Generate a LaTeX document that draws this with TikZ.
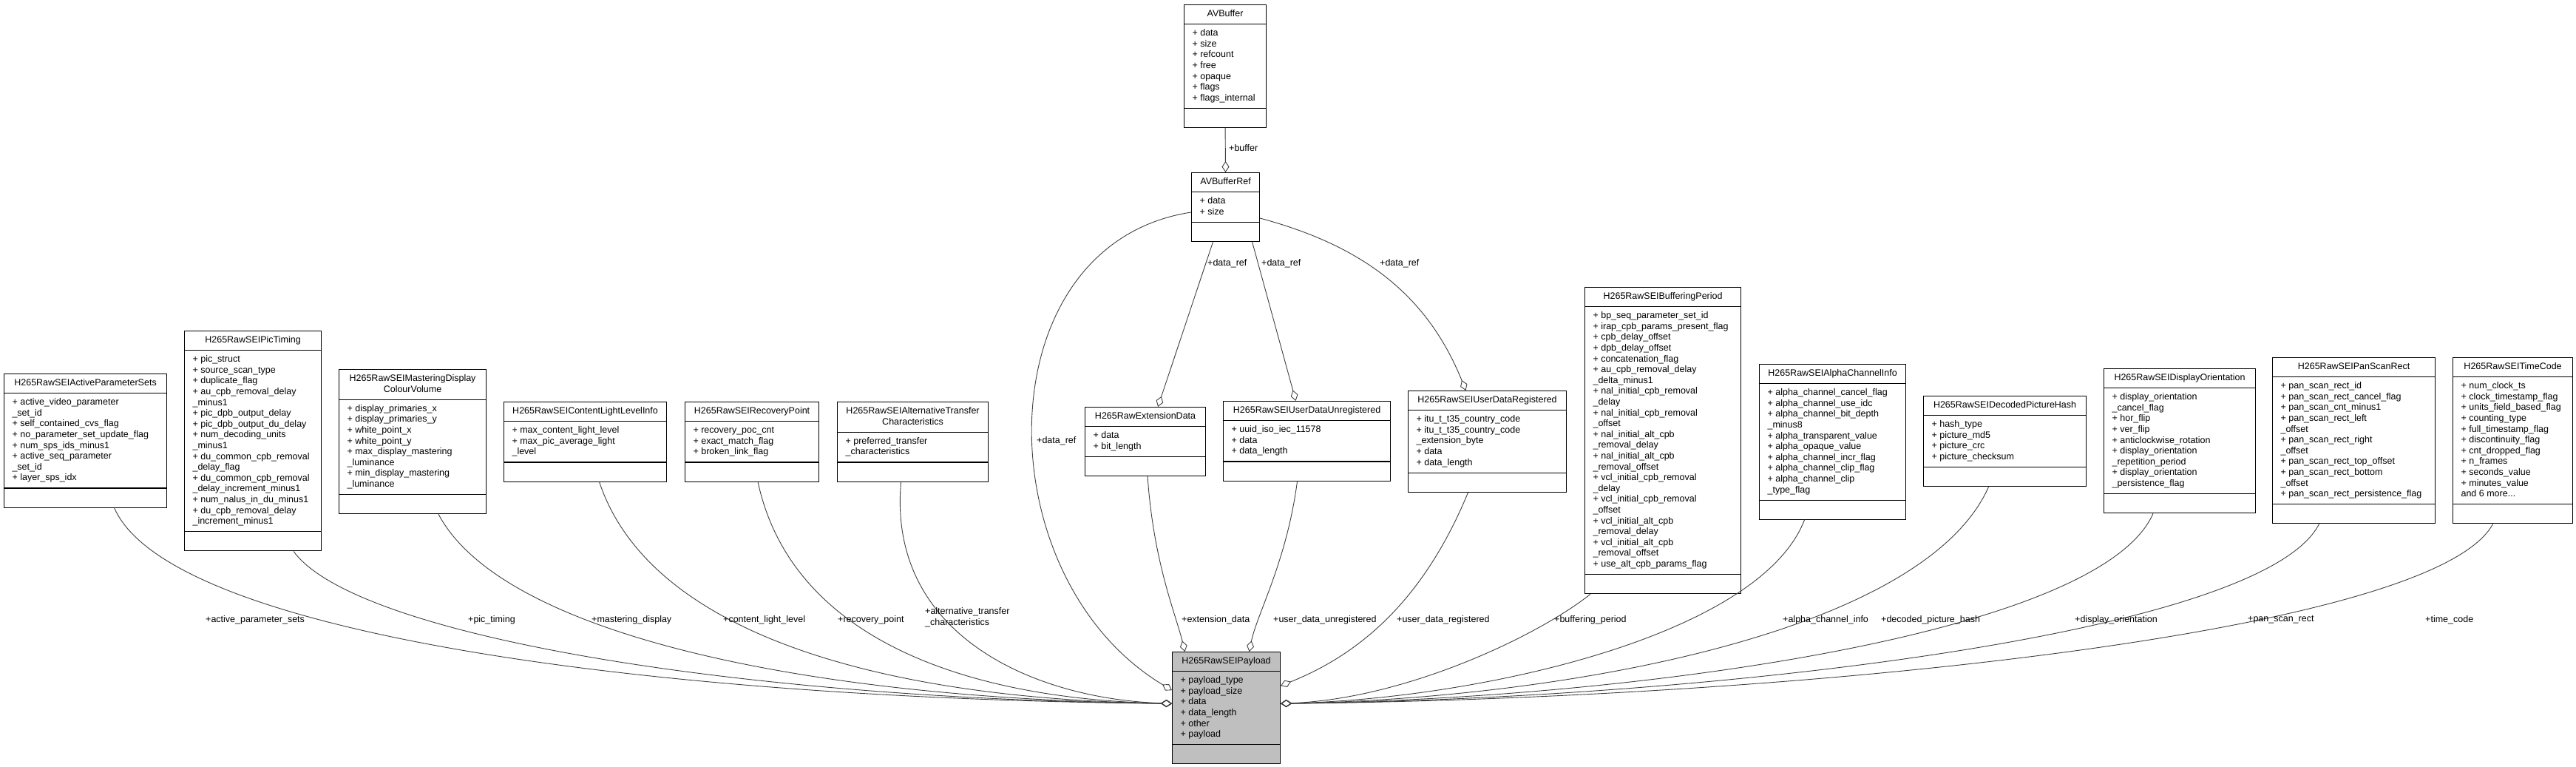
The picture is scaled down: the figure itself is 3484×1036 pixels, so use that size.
\documentclass[tikz,border=0pt]{standalone}
\usepackage{fontspec}
\setmainfont{Liberation Sans}
\usetikzlibrary{arrows.meta,shapes.multipart}
\definecolor{Ink}{HTML}{000000}
\definecolor{EdgeGray}{HTML}{404040}
\definecolor{OwnerGray}{HTML}{BFBFBF}
\newcommand{\doxfont}{\fontsize{12.5}{14.6}\selectfont}
\newlength{\clswidth}
% the three compartments of a class box
\newcommand{\ttl}[1]{\parbox[t]{\clswidth}{\centering\strut#1\strut}}
\newcommand{\atts}[1]{\parbox[t]{\clswidth}{\raggedright\strut#1\strut}}
\newcommand{\nometh}{\parbox[t]{\clswidth}{\strut}}

\begin{document}
\begin{tikzpicture}[x=1pt,y=-1pt,font=\doxfont,
  cls/.style={draw=Ink,line width=1.1pt,fill=white,rectangle split,rectangle split parts=3,
    anchor=north west,inner xsep=11pt,inner ysep=5.2pt,
    /utils/exec={\setlength{\clswidth}{\dimexpr#1pt-22pt\relax}}},
  has/.style={draw=EdgeGray,line width=0.9pt,-{Diamond[open,length=15pt,width=10pt]}},
  lbl/.style={anchor=west,inner sep=0pt,text=Ink,align=left}]
  \useasboundingbox (0,0) rectangle (3484,1036);

  % buffer classes on top
  \node[cls=111] (avbuffer) at (1601,6) {\ttl{AVBuffer}\nodepart{two}\atts{+ data\\+ size\\+ refcount\\+ free\\+ opaque\\+ flags\\+ flags\_internal}\nodepart{three}\nometh};
  \node[cls=92] (avbufref) at (1611,233) {\ttl{AVBufferRef}\nodepart{two}\atts{+ data\\+ size}\nodepart{three}\nometh};

  % member classes, left to right
  \node[cls=220] (aps) at (5,505) {\ttl{H265RawSEIActiveParameterSets}\nodepart{two}\atts{+ active\_video\_parameter\\\_set\_id\\+ self\_contained\_cvs\_flag\\+ no\_parameter\_set\_update\_flag\\+ num\_sps\_ids\_minus1\\+ active\_seq\_parameter\\\_set\_id\\+ layer\_sps\_idx}\nodepart{three}\nometh};
  \node[cls=185] (pictiming) at (249,447) {\ttl{H265RawSEIPicTiming}\nodepart{two}\atts{+ pic\_struct\\+ source\_scan\_type\\+ duplicate\_flag\\+ au\_cpb\_removal\_delay\\\_minus1\\+ pic\_dpb\_output\_delay\\+ pic\_dpb\_output\_du\_delay\\+ num\_decoding\_units\\\_minus1\\+ du\_common\_cpb\_removal\\\_delay\_flag\\+ du\_common\_cpb\_removal\\\_delay\_increment\_minus1\\+ num\_nalus\_in\_du\_minus1\\+ du\_cpb\_removal\_delay\\\_increment\_minus1}\nodepart{three}\nometh};
  \node[cls=199] (mastering) at (458,499) {\ttl{H265RawSEIMasteringDisplay\\ColourVolume}\nodepart{two}\atts{+ display\_primaries\_x\\+ display\_primaries\_y\\+ white\_point\_x\\+ white\_point\_y\\+ max\_display\_mastering\\\_luminance\\+ min\_display\_mastering\\\_luminance}\nodepart{three}\nometh};
  \node[cls=220] (contentlight) at (681,543) {\ttl{H265RawSEIContentLightLevelInfo}\nodepart{two}\atts{+ max\_content\_light\_level\\+ max\_pic\_average\_light\\\_level}\nodepart{three}\nometh};
  \node[cls=181] (recovery) at (926,543) {\ttl{H265RawSEIRecoveryPoint}\nodepart{two}\atts{+ recovery\_poc\_cnt\\+ exact\_match\_flag\\+ broken\_link\_flag}\nodepart{three}\nometh};
  \node[cls=204] (alttransfer) at (1132,543) {\ttl{H265RawSEIAlternativeTransfer\\Characteristics}\nodepart{two}\atts{+ preferred\_transfer\\\_characteristics}\nodepart{three}\nometh};
  \node[cls=163] (extdata) at (1467,550) {\ttl{H265RawExtensionData}\nodepart{two}\atts{+ data\\+ bit\_length}\nodepart{three}\nometh};
  \node[cls=226] (unreg) at (1654,542) {\ttl{H265RawSEIUserDataUnregistered}\nodepart{two}\atts{+ uuid\_iso\_iec\_11578\\+ data\\+ data\_length}\nodepart{three}\nometh};
  \node[cls=214] (registered) at (1904,528) {\ttl{H265RawSEIUserDataRegistered}\nodepart{two}\atts{+ itu\_t\_t35\_country\_code\\+ itu\_t\_t35\_country\_code\\\_extension\_byte\\+ data\\+ data\_length}\nodepart{three}\nometh};
  \node[cls=211] (buffering) at (2143,388) {\ttl{H265RawSEIBufferingPeriod}\nodepart{two}\atts{+ bp\_seq\_parameter\_set\_id\\+ irap\_cpb\_params\_present\_flag\\+ cpb\_delay\_offset\\+ dpb\_delay\_offset\\+ concatenation\_flag\\+ au\_cpb\_removal\_delay\\\_delta\_minus1\\+ nal\_initial\_cpb\_removal\\\_delay\\+ nal\_initial\_cpb\_removal\\\_offset\\+ nal\_initial\_alt\_cpb\\\_removal\_delay\\+ nal\_initial\_alt\_cpb\\\_removal\_offset\\+ vcl\_initial\_cpb\_removal\\\_delay\\+ vcl\_initial\_cpb\_removal\\\_offset\\+ vcl\_initial\_alt\_cpb\\\_removal\_delay\\+ vcl\_initial\_alt\_cpb\\\_removal\_offset\\+ use\_alt\_cpb\_params\_flag}\nodepart{three}\nometh};
  \node[cls=198] (alpha) at (2379,492) {\ttl{H265RawSEIAlphaChannelInfo}\nodepart{two}\atts{+ alpha\_channel\_cancel\_flag\\+ alpha\_channel\_use\_idc\\+ alpha\_channel\_bit\_depth\\\_minus8\\+ alpha\_transparent\_value\\+ alpha\_opaque\_value\\+ alpha\_channel\_incr\_flag\\+ alpha\_channel\_clip\_flag\\+ alpha\_channel\_clip\\\_type\_flag}\nodepart{three}\nometh};
  \node[cls=220] (decoded) at (2601,535) {\ttl{H265RawSEIDecodedPictureHash}\nodepart{two}\atts{+ hash\_type\\+ picture\_md5\\+ picture\_crc\\+ picture\_checksum}\nodepart{three}\nometh};
  \node[cls=205] (display) at (2845,498) {\ttl{H265RawSEIDisplayOrientation}\nodepart{two}\atts{+ display\_orientation\\\_cancel\_flag\\+ hor\_flip\\+ ver\_flip\\+ anticlockwise\_rotation\\+ display\_orientation\\\_repetition\_period\\+ display\_orientation\\\_persistence\_flag}\nodepart{three}\nometh};
  \node[cls=220] (panscan) at (3073,483) {\ttl{H265RawSEIPanScanRect}\nodepart{two}\atts{+ pan\_scan\_rect\_id\\+ pan\_scan\_rect\_cancel\_flag\\+ pan\_scan\_cnt\_minus1\\+ pan\_scan\_rect\_left\\\_offset\\+ pan\_scan\_rect\_right\\\_offset\\+ pan\_scan\_rect\_top\_offset\\+ pan\_scan\_rect\_bottom\\\_offset\\+ pan\_scan\_rect\_persistence\_flag}\nodepart{three}\nometh};
  \node[cls=162] (timecode) at (3317,483) {\ttl{H265RawSEITimeCode}\nodepart{two}\atts{+ num\_clock\_ts\\+ clock\_timestamp\_flag\\+ units\_field\_based\_flag\\+ counting\_type\\+ full\_timestamp\_flag\\+ discontinuity\_flag\\+ cnt\_dropped\_flag\\+ n\_frames\\+ seconds\_value\\+ minutes\_value\\and 6 more...}\nodepart{three}\nometh};

  % the owner
  \node[cls=146,fill=OwnerGray] (payload) at (1585,881) {\ttl{H265RawSEIPayload}\nodepart{two}\atts{+ payload\_type\\+ payload\_size\\+ data\\+ data\_length\\+ other\\+ payload}\nodepart{three}\nometh};

  % buffer references
  \draw[has] (avbuffer.south) -- (avbufref.north);
  \draw[has] ([xshift=-17pt]avbufref.south) -- ([xshift=17pt]extdata.north);
  \draw[has] ([xshift=36pt]avbufref.south) -- ([xshift=-15pt]unreg.north);
  \draw[has] ([yshift=-15pt]avbufref.east) to[out=-15,in=112] ([xshift=-29pt]registered.north);
  \draw[has] ([yshift=-7pt]avbufref.west) .. controls (1330,330) and (1330,780) .. ([yshift=24pt]payload.west);
  \node[lbl] (l-buffer) at (1662,200) {+buffer};
  \node[lbl] (l-ref1) at (1633,356) {+data\_ref};
  \node[lbl] (l-ref2) at (1706,356) {+data\_ref};
  \node[lbl] (l-ref3) at (1866,356) {+data\_ref};
  \node[lbl] (l-ref4) at (1402,596) {+data\_ref};

  % members on the left
  \draw[has] ([xshift=39pt]aps.south) .. controls (230,860) and (900,945) .. ([yshift=6pt]payload.west);
  \draw[has] ([xshift=55pt]pictiming.south) .. controls (480,860) and (1000,945) .. ([yshift=6pt]payload.west);
  \draw[has] ([xshift=35pt]mastering.south) .. controls (680,860) and (1100,945) .. ([yshift=6pt]payload.west);
  \draw[has] ([xshift=19pt]contentlight.south) .. controls (880,860) and (1200,945) .. ([yshift=6pt]payload.west);
  \draw[has] ([xshift=8pt]recovery.south) .. controls (1070,860) and (1300,945) .. ([yshift=6pt]payload.west);
  \draw[has] ([xshift=-16pt]alttransfer.south) .. controls (1200,860) and (1400,945) .. ([yshift=6pt]payload.west);
  \node[lbl] (l-aps) at (278,838) {+active\_parameter\_sets};
  \node[lbl] (l-pic) at (633,838) {+pic\_timing};
  \node[lbl] (l-mast) at (800,838) {+mastering\_display};
  \node[lbl] (l-cll) at (978,838) {+content\_light\_level};
  \node[lbl] (l-rec) at (1133,838) {+recovery\_point};
  \node[lbl] (l-atc) at (1251,835) {+alternative\_transfer\\\_characteristics};

  % members in the middle
  \draw[has] ([xshift=3pt]extdata.south) .. controls (1560,760) and (1590,830) .. ([xshift=-56pt]payload.north);
  \draw[has] ([xshift=-13pt]unreg.south) .. controls (1740,760) and (1700,830) .. ([xshift=31pt]payload.north);
  \draw[has] ([xshift=-26pt]registered.south) .. controls (1930,800) and (1850,880) .. ([yshift=30pt]payload.east);
  \node[lbl] (l-ext) at (1598,838) {+extension\_data};
  \node[lbl] (l-unreg) at (1722,838) {+user\_data\_unregistered};
  \node[lbl] (l-reg) at (1889,838) {+user\_data\_registered};

  % members on the right
  \draw[has] ([xshift=-98pt]buffering.south) .. controls (2080,860) and (1900,945) .. ([yshift=6pt]payload.east);
  \draw[has] ([xshift=-38pt]alpha.south) .. controls (2380,860) and (2000,945) .. ([yshift=6pt]payload.east);
  \draw[has] ([xshift=-22pt]decoded.south) .. controls (2600,860) and (2100,945) .. ([yshift=6pt]payload.east);
  \draw[has] ([xshift=-36pt]display.south) .. controls (2840,860) and (2200,945) .. ([yshift=6pt]payload.east);
  \draw[has] ([xshift=-47pt]panscan.south) .. controls (3060,860) and (2300,945) .. ([yshift=6pt]payload.east);
  \draw[has] ([xshift=-27pt]timecode.south) .. controls (3290,860) and (2400,945) .. ([yshift=6pt]payload.east);
  \node[lbl] (l-bp) at (2102,838) {+buffering\_period};
  \node[lbl] (l-alpha) at (2411,838) {+alpha\_channel\_info};
  \node[lbl] (l-hash) at (2544,838) {+decoded\_picture\_hash};
  \node[lbl] (l-disp) at (2806,838) {+display\_orientation};
  \node[lbl] (l-pan) at (3040,838) {+pan\_scan\_rect};
  \node[lbl] (l-tc) at (3280,838) {+time\_code};
\end{tikzpicture}
\end{document}
